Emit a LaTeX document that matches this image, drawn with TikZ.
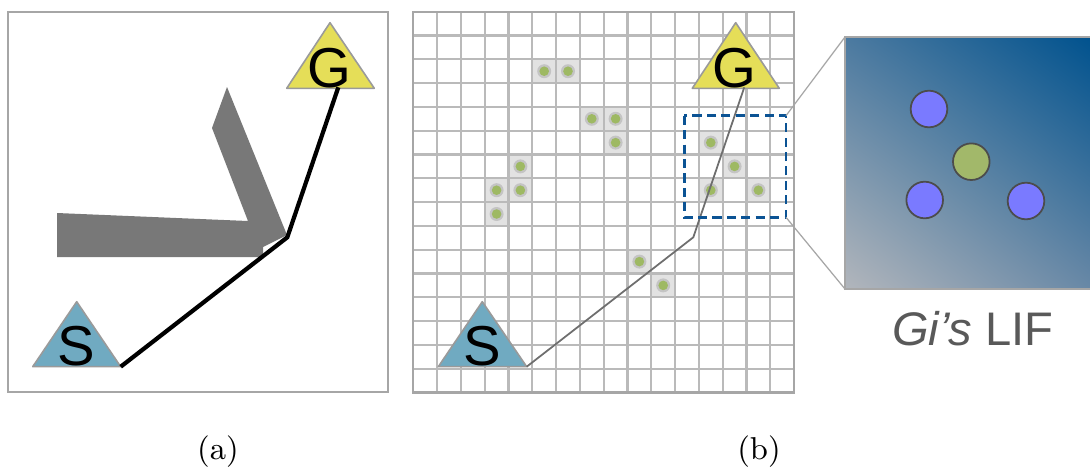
\documentclass[tikz,border=0pt]{standalone}
\usepackage{fontspec}
\setsansfont{Liberation Sans}
\usetikzlibrary{shadings}
\definecolor{frameGray}{RGB}{166,166,166}
\definecolor{gridGray}{RGB}{186,186,186}
\definecolor{wallGray}{RGB}{120,120,120}
\definecolor{startBlue}{RGB}{112,170,193}
\definecolor{goalYellow}{RGB}{229,222,88}
\definecolor{triGray}{RGB}{154,154,154}
\definecolor{cellGray}{RGB}{226,226,226}
\definecolor{ringGray}{RGB}{196,196,196}
\definecolor{dotGreen}{RGB}{158,185,99}
\definecolor{focusBlue}{RGB}{11,83,148}
\definecolor{lifLL}{RGB}{178,182,188}
\definecolor{lifUR}{RGB}{0,82,142}
\definecolor{lifUL}{RGB}{76,122,160}
\definecolor{lifLR}{RGB}{104,136,166}
\definecolor{agentBlue}{RGB}{122,122,255}
\definecolor{agentGreen}{RGB}{162,184,106}
\definecolor{pathGray}{RGB}{110,110,110}
\definecolor{labelGray}{RGB}{89,89,89}

\begin{document}
\begin{tikzpicture}[x=0.01cm,y=-0.01cm,
    tri/.style={draw=triGray,line width=0.45pt,line join=round},
    letter/.style={anchor=base,inner sep=0pt,font=\sffamily\fontsize{16}{16}\selectfont},
    agent/.style={draw=black!70,line width=0.5pt}]
  \clip (0,0) rectangle (1090,466);
  \fill[white] (0,0) rectangle (1090,466);

  % (a) continuous map
  \draw[frameGray,line width=0.6pt] (8,11.7) rectangle (388,391.7);
  \fill[wallGray] (57,213) -- (248,221) -- (212,128) -- (227,87) -- (287,235)
    -- (263,247) -- (263,257) -- (57,257) -- cycle;
  \draw[tri,fill=startBlue] (32.7,366.7) -- (76.7,301.7) -- (120.7,366.7) -- cycle;
  \draw[tri,fill=goalYellow] (286.7,88.3) -- (330,22.7) -- (374.3,88.3) -- cycle;
  \node[letter] (sA) at (76.5,365) {S};
  \node[letter] (gA) at (329,87) {G};
  \coordinate (startA) at (120.7,366.7);
  \coordinate (kneeA) at (287.3,237.3);
  \coordinate (goalA) at (338.3,87.3);
  \draw[black,line width=1.2pt,line join=miter] (startA) -- (kneeA) -- (goalA);

  % (b) grid map
  \foreach \c/\r in {5/2,6/2,7/4,8/4,8/5,4/6,3/7,4/7,3/8,12/5,13/6,12/7,14/7,9/10,10/11}{
    \fill[cellGray] (413.3+\c*23.8,11.7+\r*23.8) rectangle ++(23.8,23.8);
  }
  \foreach \i in {0,...,16}{
    \draw[gridGray,line width=0.65pt] (413.3+\i*23.8,11.7) -- (413.3+\i*23.8,392.5);
    \draw[gridGray,line width=0.65pt] (413.3,11.7+\i*23.8) -- (794.1,11.7+\i*23.8);
  }
  \draw[frameGray,line width=0.65pt] (413.3,11.7) rectangle (794.1,392.5);
  \foreach \c/\r in {5/2,6/2,7/4,8/4,8/5,4/6,3/7,4/7,3/8,12/5,13/6,12/7,14/7,9/10,10/11}{
    \fill[ringGray] (425.2+\c*23.8,23.6+\r*23.8) circle[radius=7];
    \fill[dotGreen] (425.2+\c*23.8,23.6+\r*23.8) circle[radius=4.8];
  }
  \draw[tri,fill=startBlue] (438.3,366.7) -- (482.3,301.7) -- (526.7,366.7) -- cycle;
  \draw[tri,fill=goalYellow] (692.3,88.3) -- (735.7,22.7) -- (779.3,88.3) -- cycle;
  \node[letter] (sB) at (482.5,365) {S};
  \node[letter] (gB) at (734,87) {G};
  \coordinate (startB) at (526.7,366.7);
  \coordinate (kneeB) at (693.3,237.3);
  \coordinate (goalB) at (744.3,87.3);
  \draw[pathGray,line width=0.5pt] (startB) -- (kneeB) -- (goalB);

  % focus window and its LIF
  \draw[focusBlue,line width=0.75pt,dash pattern=on 2.6pt off 1.5pt] (684.3,115.7) rectangle (786,217.3);
  \coordinate (focusNE) at (786,115.7);
  \coordinate (focusSE) at (786,217.3);
  \shade[lower left=lifLL,upper right=lifUR,upper left=lifUL,lower right=lifLR]
    (845,37) rectangle (1092,289);
  \draw[frameGray,line width=0.6pt] (845,37) rectangle (1092,289);
  \coordinate (lifNW) at (845,37);
  \coordinate (lifSW) at (845,289);
  \draw[frameGray,line width=0.35pt] (focusNE) -- (lifNW);
  \draw[frameGray,line width=0.35pt] (focusSE) -- (lifSW);
  \foreach \x/\y/\col in {929/109/agentBlue, 924.7/200/agentBlue, 1026/201/agentBlue, 971.3/161.7/agentGreen}{
    \filldraw[agent,fill=\col] (\x,\y) circle[radius=18.3];
  }
  \node[anchor=base,inner sep=0pt,text=labelGray,font=\sffamily\fontsize{13.4}{14}\selectfont]
    (lifLabel) at (973,345) {\textit{Gi's} LIF};

  \node[anchor=base,inner sep=0pt,font=\fontsize{9}{10}\selectfont] (capA) at (218,459) {(a)};
  \node[anchor=base,inner sep=0pt,font=\fontsize{9}{10}\selectfont] (capB) at (759,459) {(b)};
\end{tikzpicture}
\end{document}
